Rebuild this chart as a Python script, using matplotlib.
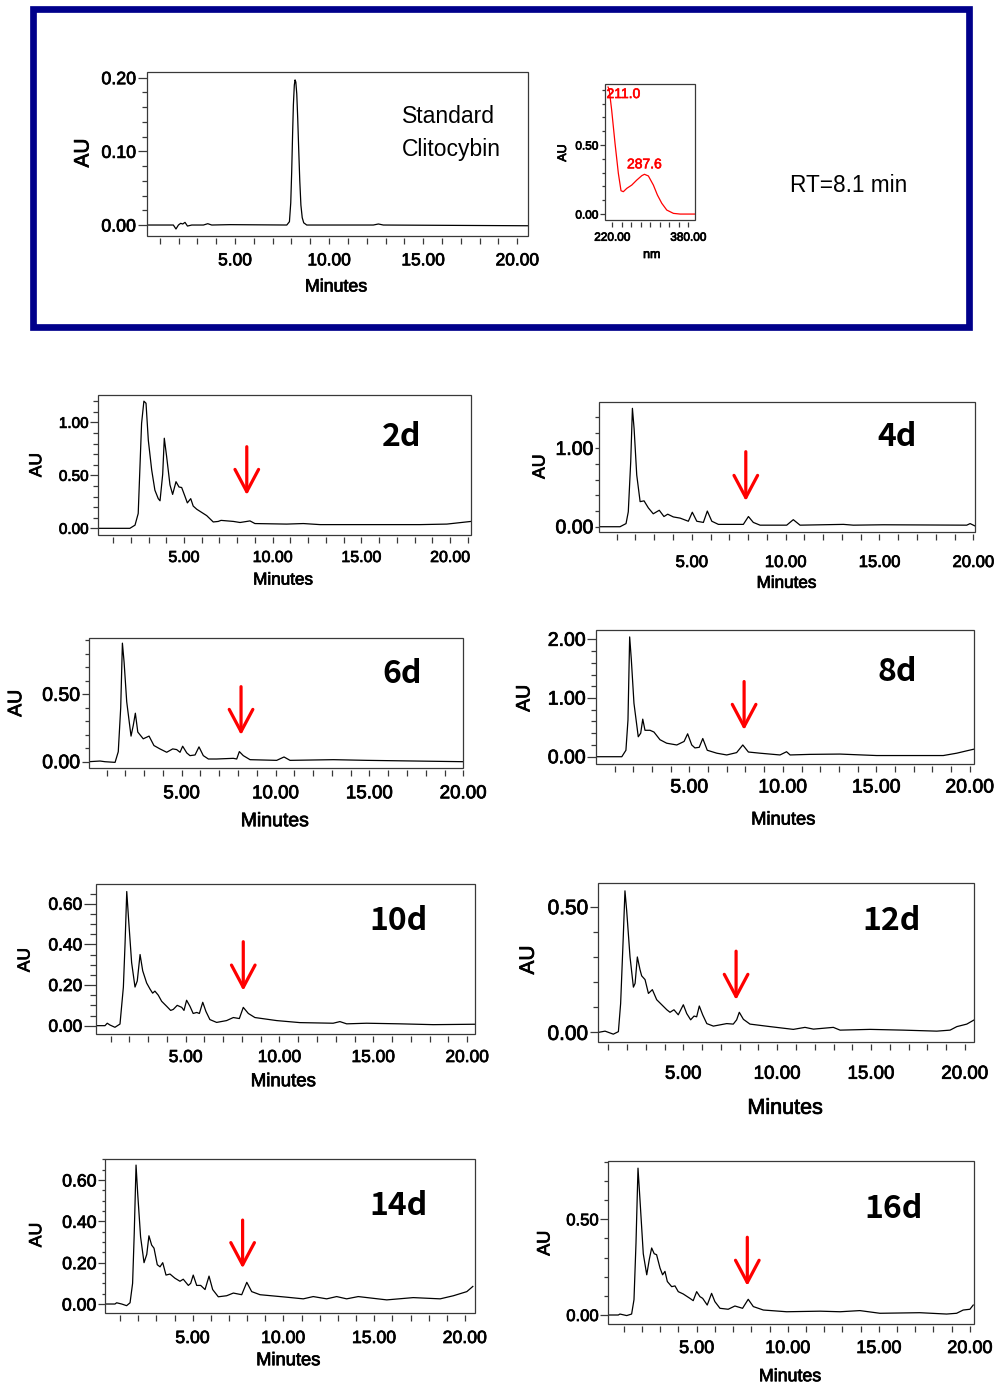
import matplotlib
matplotlib.use('Agg')
import matplotlib.pyplot as plt
import matplotlib.patheffects as pe
from matplotlib.patches import Rectangle
from matplotlib.ticker import FixedLocator, MultipleLocator, FormatStrFormatter

plt.rcParams['font.family'] = ['Liberation Sans', 'DejaVu Sans']

W, H = 994, 1385

# standard clitocybin run (minutes, AU)
t_std = [0.31, 1.72, 1.86, 1.99, 2.11, 2.22, 2.34, 2.47, 2.70, 3.32,
         3.55, 3.76, 4.73, 7.75, 7.89, 7.96, 8.01, 8.06, 8.10, 8.15,
         8.19, 8.23, 8.28, 8.33, 8.38, 8.44, 8.50, 8.57, 8.65, 8.81,
         12.35, 12.62, 12.88, 20.58]
au_std = [0.0, 0.0, -0.0054, 0.0, 0.0023, 0.0014, 0.0036, -0.0014, 0.0, 0.0,
          0.0018, 0.0, 0.0005, 0.0, 0.0045, 0.03, 0.072, 0.125, 0.163, 0.19,
          0.197, 0.194, 0.178, 0.145, 0.105, 0.06, 0.027, 0.01, 0.003, 0.0,
          0.0, 0.0014, 0.0, -0.001]

# UV spectrum of the standard peak
nm_uv = [211.0, 213.6, 218.6, 225.7, 232.7, 238.3, 243.2, 250.4, 260.9, 271.4,
         282.0, 287.6, 295.9, 306.4, 314.9, 324.1, 334.6, 348.6, 362.7, 394.0]
au_uv = [0.92, 0.899, 0.754, 0.512, 0.295, 0.169, 0.162, 0.186, 0.21, 0.246,
         0.278, 0.288, 0.276, 0.21, 0.138, 0.078, 0.029, 0.005, 0.0, 0.0]
uv_max = [(211.0, 0.92), (287.6, 0.288)]

# culture extracts by day
t_2d = [0.17, 1.95, 2.24, 2.42, 2.61, 2.74, 2.86, 2.99, 3.18, 3.36,
        3.55, 3.65, 3.80, 3.89, 4.02, 4.21, 4.36, 4.55, 4.72, 4.87,
        5.06, 5.19, 5.38, 5.52, 5.72, 6.00, 6.28, 6.65, 6.93, 7.09,
        7.79, 8.16, 8.54, 8.72, 9.00, 10.79, 11.73, 12.67, 14.55, 18.31,
        19.82, 21.18]
au_2d = [0.0, 0.0, 0.03, 0.14, 0.99, 1.20, 1.18, 0.83, 0.55, 0.36,
         0.28, 0.26, 0.51, 0.85, 0.68, 0.41, 0.32, 0.44, 0.39, 0.385,
         0.30, 0.24, 0.28, 0.21, 0.18, 0.15, 0.12, 0.06, 0.065, 0.075,
         0.065, 0.055, 0.065, 0.07, 0.045, 0.04, 0.045, 0.035, 0.035, 0.035,
         0.04, 0.065]

t_4d = [0.06, 1.18, 1.50, 1.62, 1.75, 1.84, 1.93, 2.07, 2.25, 2.46,
        2.69, 2.95, 3.27, 3.52, 3.72, 4.02, 4.38, 4.82, 5.03, 5.27,
        5.62, 5.83, 6.07, 6.42, 7.40, 7.75, 8.02, 8.28, 8.64, 10.06,
        10.41, 10.77, 13.08, 13.61, 15.21, 19.65, 19.83, 20.09]
au_4d = [0.0, 0.0, 0.04, 0.19, 0.83, 1.51, 1.25, 0.66, 0.32, 0.33,
         0.24, 0.165, 0.21, 0.13, 0.16, 0.125, 0.11, 0.07, 0.185, 0.07,
         0.055, 0.20, 0.07, 0.03, 0.03, 0.03, 0.13, 0.055, 0.02, 0.02,
         0.09, 0.02, 0.03, 0.02, 0.025, 0.02, 0.04, 0.01]

t_6d = [0.05, 0.65, 0.91, 1.45, 1.62, 1.75, 1.84, 1.93, 2.07, 2.30,
        2.42, 2.53, 2.66, 2.95, 3.26, 3.52, 3.84, 4.20, 4.52, 4.73,
        4.91, 5.05, 5.27, 5.44, 5.71, 5.92, 6.15, 6.42, 6.86, 7.75,
        7.93, 8.07, 8.28, 8.64, 10.06, 10.45, 10.77, 13.08, 14.86, 20.0]
au_6d = [0.0, 0.005, 0.0, -0.005, 0.074, 0.40, 0.88, 0.74, 0.445, 0.19,
         0.27, 0.36, 0.22, 0.17, 0.19, 0.12, 0.095, 0.07, 0.095, 0.09,
         0.07, 0.115, 0.065, 0.045, 0.05, 0.11, 0.045, 0.02, 0.02, 0.025,
         0.02, 0.075, 0.045, 0.015, 0.01, 0.035, 0.01, 0.015, 0.01, 0.0]

t_8d = [0.01, 1.39, 1.61, 1.72, 1.81, 1.90, 2.04, 2.27, 2.40, 2.51,
        2.63, 2.90, 3.11, 3.43, 3.79, 4.33, 4.72, 4.91, 5.13, 5.30,
        5.53, 5.72, 5.96, 6.47, 7.00, 7.53, 7.86, 8.16, 8.78, 9.85,
        10.2, 10.39, 11.45, 13.06, 15.02, 18.58, 19.30, 19.83, 20.24]
au_8d = [0.0, 0.0, 0.11, 0.625, 2.04, 1.65, 0.91, 0.34, 0.40, 0.64,
         0.45, 0.45, 0.42, 0.29, 0.23, 0.20, 0.26, 0.39, 0.20, 0.15,
         0.16, 0.31, 0.11, 0.06, 0.03, 0.07, 0.20, 0.08, 0.06, 0.03,
         0.085, 0.03, 0.04, 0.045, 0.02, 0.02, 0.06, 0.10, 0.13]

t_10d = [0.205, 0.70, 0.82, 0.97, 1.23, 1.50, 1.68, 1.77, 1.86, 1.96,
         2.12, 2.30, 2.42, 2.57, 2.71, 2.92, 3.10, 3.24, 3.36, 3.54,
         3.72, 3.99, 4.20, 4.34, 4.55, 4.79, 4.91, 5.05, 5.23, 5.40,
         5.59, 5.73, 5.91, 6.08, 6.29, 6.65, 7.18, 7.54, 7.86, 8.07,
         8.34, 8.69, 9.85, 11.09, 12.86, 13.22, 13.58, 14.64, 16.42, 18.19,
         20.42]
au_10d = [0.0, 0.0, 0.012, 0.003, -0.008, 0.008, 0.19, 0.405, 0.66, 0.52,
          0.31, 0.19, 0.22, 0.35, 0.27, 0.21, 0.18, 0.16, 0.17, 0.15,
          0.12, 0.095, 0.075, 0.08, 0.10, 0.09, 0.075, 0.125, 0.095, 0.06,
          0.065, 0.06, 0.115, 0.07, 0.03, 0.016, 0.025, 0.04, 0.035, 0.09,
          0.06, 0.04, 0.025, 0.015, 0.012, 0.02, 0.009, 0.012, 0.009, 0.005,
          0.007]

t_12d = [0.47, 0.83, 1.27, 1.54, 1.66, 1.80, 1.89, 1.98, 2.16, 2.34,
         2.43, 2.55, 2.69, 2.78, 2.96, 3.14, 3.35, 3.58, 3.85, 4.12,
         4.29, 4.50, 4.73, 5.00, 5.18, 5.39, 5.57, 5.71, 5.85, 6.03,
         6.25, 6.60, 7.31, 7.66, 7.84, 7.98, 8.20, 8.55, 9.62, 10.86,
         11.48, 11.93, 12.99, 13.35, 14.95, 16.72, 18.50, 19.21, 19.57, 20.10,
         20.5]
au_12d = [0.0, 0.005, -0.007, 0.003, 0.115, 0.38, 0.563, 0.486, 0.30, 0.18,
          0.195, 0.30, 0.25, 0.225, 0.21, 0.155, 0.17, 0.13, 0.11, 0.09,
          0.08, 0.09, 0.07, 0.11, 0.075, 0.05, 0.065, 0.062, 0.105, 0.07,
          0.035, 0.025, 0.035, 0.033, 0.05, 0.08, 0.052, 0.033, 0.023, 0.012,
          0.02, 0.013, 0.02, 0.009, 0.012, 0.009, 0.005, 0.009, 0.023, 0.033,
          0.05]

t_14d = [0.17, 0.72, 0.81, 1.09, 1.36, 1.55, 1.69, 1.78, 1.88, 1.97,
         2.13, 2.32, 2.47, 2.59, 2.74, 2.87, 3.05, 3.20, 3.35, 3.53,
         3.75, 4.02, 4.30, 4.48, 4.76, 4.89, 5.03, 5.22, 5.44, 5.68,
         5.90, 6.10, 6.41, 6.87, 7.24, 7.70, 7.98, 8.25, 8.71, 10.18,
         11.09, 11.64, 12.38, 12.93, 13.48, 14.12, 15.69, 17.15, 18.63, 19.36,
         20.10, 20.43]
au_14d = [0.0, 0.0, 0.006, 0.0, -0.008, 0.006, 0.10, 0.34, 0.672, 0.535,
          0.325, 0.20, 0.24, 0.33, 0.285, 0.27, 0.19, 0.18, 0.20, 0.14,
          0.145, 0.125, 0.11, 0.12, 0.09, 0.10, 0.14, 0.09, 0.09, 0.07,
          0.135, 0.07, 0.035, 0.04, 0.053, 0.045, 0.105, 0.06, 0.045, 0.033,
          0.025, 0.036, 0.025, 0.036, 0.025, 0.036, 0.02, 0.031, 0.025, 0.04,
          0.06, 0.085]

t_16d = [0.15, 0.70, 0.79, 1.16, 1.43, 1.56, 1.67, 1.78, 1.89, 2.07,
         2.26, 2.40, 2.53, 2.67, 2.80, 2.99, 3.13, 3.26, 3.39, 3.63,
         3.81, 3.99, 4.26, 4.63, 4.81, 5.00, 5.18, 5.33, 5.58, 5.82,
         6.00, 6.28, 6.73, 7.10, 7.52, 7.83, 8.11, 8.66, 9.94, 11.77,
         12.87, 13.96, 15.06, 17.25, 18.72, 19.27, 19.63, 20.0, 20.18]
au_16d = [0.0, 0.0, 0.005, -0.003, 0.005, 0.08, 0.375, 0.767, 0.60, 0.32,
          0.21, 0.29, 0.35, 0.32, 0.315, 0.245, 0.21, 0.228, 0.175, 0.148,
          0.152, 0.122, 0.11, 0.087, 0.075, 0.122, 0.096, 0.087, 0.052, 0.113,
          0.07, 0.035, 0.03, 0.047, 0.035, 0.082, 0.044, 0.026, 0.017, 0.02,
          0.017, 0.023, 0.009, 0.012, 0.005, 0.009, 0.026, 0.03, 0.052]

days = ['2d', '4d', '6d', '8d', '10d', '12d', '14d', '16d']
times = [t_2d, t_4d, t_6d, t_8d, t_10d, t_12d, t_14d, t_16d]
signals = [au_2d, au_4d, au_6d, au_8d, au_10d, au_12d, au_14d, au_16d]

# clitocybin peak marked in each run: (minutes, arrow tail AU, arrow tip AU)
marks = [(8.54, 0.77, 0.314), (7.88, 0.957, 0.328), (8.16, 0.557, 0.198),
         (7.93, 1.28, 0.455), (8.07, 0.413, 0.172), (7.81, 0.323, 0.129),
         (7.75, 0.406, 0.173), (7.78, 0.406, 0.152)]

# panel layout in pixels: axes box, limits, y tick steps, font sizes, label spots
panels = [
    dict(box=(98.3, 395, 471, 535), xlim=(0.17, 21.18), ylim=(-0.063, 1.258),
         ymaj=0.5, ymin=0.1, yfs=11, xfs=11.5, ylen=8.3, ylmin=5, xgap=15,
         au=(36.7, 465, 12.5), mins=(283.3, 580, 12.3), tag=(401.7, 437)),
    dict(box=(599, 402.3, 975, 532.3), xlim=(0.06, 20.09), ylim=(-0.071, 1.587),
         ymaj=1.0, ymin=0.2, yfs=14, xfs=12, ylen=4, ylmin=4, xgap=22.7,
         au=(540, 466.7, 12.7), mins=(786.7, 583.3, 12.3), tag=(897.3, 437)),
    dict(box=(88.7, 638.3, 463.3, 768.3), xlim=(0.045, 20.0), ylim=(-0.049, 0.916),
         ymaj=0.5, ymin=0.1, yfs=14, xfs=13.5, ylen=7, ylmin=3.7, xgap=17,
         au=(16.7, 703.3, 14), mins=(275, 821.7, 14), tag=(402.3, 674)),
    dict(box=(596, 630, 974.3, 764), xlim=(0.01, 20.24), ylim=(-0.124, 2.158),
         ymaj=1.0, ymin=0.2, yfs=14, xfs=14, ylen=8.7, ylmin=5, xgap=15.5,
         au=(525, 698.3, 14), mins=(783.3, 820, 13.2), tag=(897.3, 672)),
    dict(box=(95.7, 884, 475, 1034), xlim=(0.205, 20.42), ylim=(-0.041, 0.697),
         ymaj=0.2, ymin=0.05, yfs=12.5, xfs=12.5, ylen=12, ylmin=5.7, xgap=16,
         au=(25, 960, 12.5), mins=(283.3, 1081.7, 13.4), tag=(398.3, 921)),
    dict(box=(598.3, 883.3, 974.3, 1041.7), xlim=(0.47, 20.5), ylim=(-0.037, 0.593),
         ymaj=0.5, ymin=0.1, yfs=15, xfs=13.5, ylen=8.3, ylmin=5, xgap=24,
         au=(528.3, 960, 15), mins=(785, 1108.3, 15.5), tag=(891.7, 921)),
    dict(box=(105, 1159.3, 475, 1312.7), xlim=(0.17, 20.55), ylim=(-0.042, 0.70),
         ymaj=0.2, ymin=0.05, yfs=12.7, xfs=12.7, ylen=6.7, ylmin=3.3, xgap=17.3,
         au=(36.7, 1235, 12.7), mins=(288.3, 1360.7, 13.2), tag=(398.3, 1206)),
    dict(box=(608.3, 1160.7, 974.3, 1324), xlim=(0.15, 20.24), ylim=(-0.047, 0.806),
         ymaj=0.5, ymin=0.1, yfs=12, xfs=13, ylen=8.3, ylmin=4.3, xgap=16,
         au=(545, 1243.3, 13), mins=(790, 1376.7, 12.8), tag=(893.3, 1209)),
]

PT = 0.72  # points per pixel at 100 dpi
EDGE = '#383838'
HEAVY = [pe.withStroke(linewidth=0.55, foreground='black')]
HEAVY_RED = [pe.withStroke(linewidth=0.45, foreground='red')]

fig = plt.figure(figsize=(W / 100, H / 100), dpi=100)
axes_all = []


def px_box(l, t, r, b):
    return [l / W, 1 - b / H, (r - l) / W, (b - t) / H]


def px_text(x, y, s, heavy=True, **kw):
    t = fig.text(x / W, 1 - y / H, s, **kw)
    if heavy:
        t.set_path_effects(HEAVY)
    return t


def frame(ax, xlim, ylim, xmaj, xmin, ymaj, ymin, xfs, yfs,
          ylen, ylmin, xgap, xfmt='%.2f', xlen=6):
    ax.set_xlim(*xlim)
    ax.set_ylim(*ylim)
    for s in ax.spines.values():
        s.set_color('none')
    # x ticks hang just below the box
    ax.spines['bottom'].set_position(('outward', 2 * PT))
    ax.add_patch(Rectangle((0, 0), 1, 1, transform=ax.transAxes, fill=False,
                           ec=EDGE, lw=0.9, clip_on=False, zorder=5))
    ax.xaxis.set_major_locator(FixedLocator(xmaj))
    ax.xaxis.set_minor_locator(MultipleLocator(xmin))
    ax.xaxis.set_major_formatter(FormatStrFormatter(xfmt))
    ax.yaxis.set_major_locator(MultipleLocator(ymaj))
    ax.yaxis.set_minor_locator(MultipleLocator(ymin))
    ax.yaxis.set_major_formatter(FormatStrFormatter('%.2f'))
    xpad = max(xgap - 2 - xlen, 0) * PT
    ax.tick_params(axis='x', which='both', direction='out', color=EDGE,
                   width=0.9, length=xlen * PT, pad=xpad, labelsize=xfs)
    ax.tick_params(axis='y', which='major', direction='out', color=EDGE,
                   width=0.9, length=ylen * PT, pad=1.5 * PT, labelsize=yfs)
    ax.tick_params(axis='y', which='minor', direction='out', color=EDGE,
                   width=0.9, length=ylmin * PT)
    axes_all.append(ax)


# standard: chromatogram and UV spectrum inside a framed box
fig.patches.append(Rectangle((33 / W, 1 - 326.7 / H), (969.3 - 33) / W,
                             (326.7 - 8.5) / H, transform=fig.transFigure,
                             fill=False, ec='#00008b', lw=6.7 * PT))

ax = fig.add_axes(px_box(147, 72, 528, 236))
ax.plot(t_std, au_std, color='black', lw=0.9, solid_joinstyle='round')
frame(ax, (0.32, 20.57), (-0.0149, 0.2077), [5, 10, 15, 20], 1, 0.1, 0.02,
      12.5, 12.8, 9.3, 5, 17.3)
px_text(83, 153, 'AU', rotation=90, ha='center', va='center', fontsize=15)
px_text(336, 287, 'Minutes', ha='center', va='center', fontsize=12.8)
px_text(401.7, 123, 'Standard', ha='left', va='baseline', fontsize=16.5, heavy=False)
px_text(401.7, 156, 'Clitocybin', ha='left', va='baseline', fontsize=16.5, heavy=False)

ax = fig.add_axes(px_box(605, 84, 695, 220))
ax.plot(nm_uv, au_uv, color='red', lw=0.9, solid_joinstyle='round')
frame(ax, (204.6, 394), (-0.043, 0.942), [220, 380], 20, 0.5, 0.1,
      8.5, 8.5, 5, 3.3, 11.7, xlen=5)
for nm, a in uv_max:
    if nm < 250:
        off, ha = (-1.5 * PT, -7 * PT), 'left'
    else:
        off, ha = (0, 10 * PT), 'center'
    ax.annotate(f'{nm:.1f}', xy=(nm, a), xytext=off, textcoords='offset points',
                ha=ha, va='center', color='red', fontsize=10,
                path_effects=HEAVY_RED)
px_text(563, 153, 'AU', rotation=90, ha='center', va='center', fontsize=9)
px_text(651.7, 255, 'nm', ha='center', va='center', fontsize=9)
px_text(790, 185, 'RT=8.1 min', ha='left', va='center', fontsize=16.3, heavy=False)

# time course panels
for day, t, au, mk, p in zip(days, times, signals, marks, panels):
    ax = fig.add_axes(px_box(*p['box']))
    ax.plot(t, au, color='black', lw=0.9, solid_joinstyle='round')
    frame(ax, p['xlim'], p['ylim'], [5, 10, 15, 20], 1, p['ymaj'], p['ymin'],
          p['xfs'], p['yfs'], p['ylen'], p['ylmin'], p['xgap'])
    x0, tail, tip = mk
    ax.annotate('', xy=(x0, tip), xytext=(x0, tail),
                arrowprops=dict(arrowstyle='->,head_length=1.6,head_width=0.85',
                                color='red', lw=2.3, shrinkA=0, shrinkB=0,
                                mutation_scale=10))
    ax_, ay_, afs = p['au']
    px_text(ax_, ay_, 'AU', rotation=90, ha='center', va='center', fontsize=afs)
    mx, my, mfs = p['mins']
    px_text(mx, my, 'Minutes', ha='center', va='center', fontsize=mfs)
    tx, ty = p['tag']
    px_text(tx, ty, day, heavy=False, ha='center', va='center', fontsize=23,
            fontweight='bold', family=['Noto Sans CJK KR', 'DejaVu Sans'])

# thicken tick labels once the ticks exist
fig.canvas.draw()
for ax in axes_all:
    for lab in ax.get_xticklabels() + ax.get_yticklabels():
        lab.set_path_effects(HEAVY)

fig.savefig('out.png', dpi=100)
